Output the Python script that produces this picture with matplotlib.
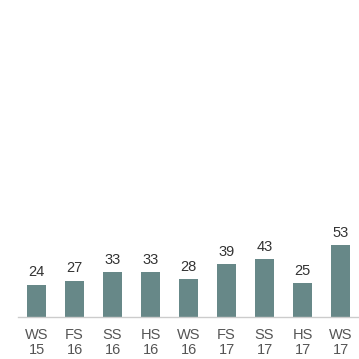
import matplotlib.pyplot as plt

labels = ["WS\n15", "FS\n16", "SS\n16", "HS\n16", "WS\n16", "FS\n17", "SS\n17", "HS\n17", "WS\n17"]
values = [24, 27, 33, 33, 28, 39, 43, 25, 53]

plt.rcParams['font.family'] = ['Liberation Sans', 'DejaVu Sans']

W = H = 359
fig = plt.figure(figsize=(3.59, 3.59), dpi=100)
# axes in pixel coordinates: left 17.5, right 359.5, baseline 317
ax = fig.add_axes([17.5 / W, (H - 317) / H, 342 / W, 317 / H])

x = range(len(values))
ax.bar(x, values, width=0.5, color='#678888')
for i, v in zip(x, values):
    ax.text(i, v + 4, str(v), ha='center', va='bottom', fontsize=10.5, color='#333333')

ax.set_xlim(-0.5, len(values) - 0.5)
ax.set_ylim(0, 317 / 1.35)
ax.set_xticks(list(x))
ax.set_xticklabels(labels, fontsize=10.5, color='#555555', linespacing=1.1)
ax.tick_params(axis='x', length=0, pad=8)
ax.set_yticks([])
for s in ['top', 'right', 'left']:
    ax.spines[s].set_visible(False)
ax.spines['bottom'].set_color('#cccccc')
ax.spines['bottom'].set_linewidth(1)

fig.savefig('out.png', dpi=100)
